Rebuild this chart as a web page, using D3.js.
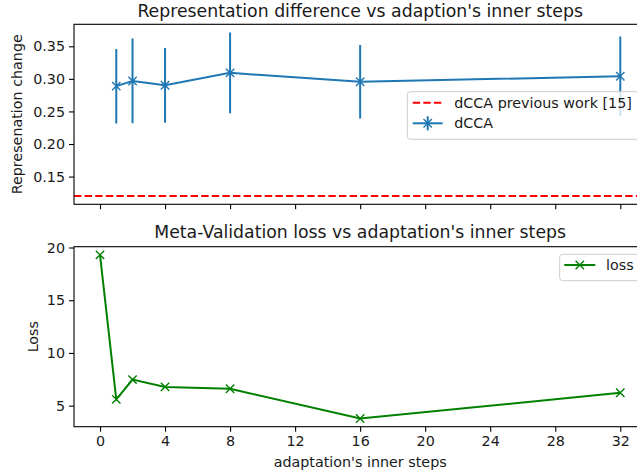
<!DOCTYPE html>
<html>
<head>
<meta charset="utf-8">
<script src="https://cdn.jsdelivr.net/npm/d3@7"></script>
<style>
  html, body { margin: 0; padding: 0; background: #fff; }
  text { font-family: "DejaVu Sans", sans-serif; fill: #1a1a1a; }
</style>
</head>
<body>
<svg id="chart" width="637" height="472"></svg>
<script>
// ---- data ----
const steps = [1, 2, 4, 8, 16, 32];
const dccaMean = [0.2888, 0.2968, 0.2901, 0.3092, 0.2955, 0.3040];
const dccaErr = [0.0572, 0.0650, 0.0574, 0.0620, 0.0565, 0.0610];
const prevWork = 0.12;
const lossSteps = [0, 1, 2, 4, 8, 16, 32];
const lossValues = [19.3, 5.6, 7.47, 6.78, 6.6, 3.78, 6.22];
const xTicks = [0, 4, 8, 12, 16, 20, 24, 28, 32];
const topYTicks = [0.15, 0.20, 0.25, 0.30, 0.35];
const botYTicks = [5, 10, 15, 20];

const svg = d3.select("#chart");
svg.append("rect").attr("width", 637).attr("height", 472).attr("fill", "#fff");

const L = 74, R = 646.3;
const top1 = 24.3, bot1 = 204.3;
const top2 = 246.7, bot2 = 426.7;
const FS = 14.3, TFS = 17.3;

function pad(lo, hi) { const m = (hi - lo) * 0.05; return [lo - m, hi + m]; }

const xAll = steps.concat(lossSteps);
const x = d3.scaleLinear().domain(pad(d3.min(xAll), d3.max(xAll))).range([L, R]);

const tLo = d3.min([prevWork].concat(dccaMean.map((m, i) => m - dccaErr[i])));
const tHi = d3.max(dccaMean.map((m, i) => m + dccaErr[i]));
const y1 = d3.scaleLinear().domain(pad(tLo, tHi)).range([bot1, top1]);
const y2 = d3.scaleLinear().domain(pad(d3.min(lossValues), d3.max(lossValues))).range([bot2, top2]);

function frame(g, top, bot) {
  g.append("rect").attr("x", L).attr("y", top).attr("width", R - L).attr("height", bot - top)
    .attr("fill", "none").attr("stroke", "#000").attr("stroke-width", 1.1);
}

function xMark(g, cx, cy, color, s) {
  g.append("path")
    .attr("d", `M${cx - s},${cy - s}L${cx + s},${cy + s}M${cx - s},${cy + s}L${cx + s},${cy - s}`)
    .attr("stroke", color).attr("stroke-width", 1.4).attr("fill", "none");
}

// ===== Top panel =====
const g1 = svg.append("g");
const clip1 = svg.append("clipPath").attr("id", "c1");
clip1.append("rect").attr("x", L).attr("y", top1).attr("width", R - L).attr("height", bot1 - top1);

const p1 = g1.append("g").attr("clip-path", "url(#c1)");
p1.append("line").attr("x1", L).attr("x2", R).attr("y1", y1(prevWork)).attr("y2", y1(prevWork))
  .attr("stroke", "#ff0000").attr("stroke-width", 2).attr("stroke-dasharray", "7.4,3.2");

steps.forEach((s, i) => {
  p1.append("line").attr("x1", x(s)).attr("x2", x(s))
    .attr("y1", y1(dccaMean[i] - dccaErr[i])).attr("y2", y1(dccaMean[i] + dccaErr[i]))
    .attr("stroke", "#1f77b4").attr("stroke-width", 2);
});
p1.append("path").datum(steps.map((s, i) => [s, dccaMean[i]]))
  .attr("d", d3.line().x(d => x(d[0])).y(d => y1(d[1])))
  .attr("fill", "none").attr("stroke", "#1f77b4").attr("stroke-width", 2);
steps.forEach((s, i) => xMark(p1, x(s), y1(dccaMean[i]), "#1f77b4", 4.2));

frame(g1, top1, bot1);

const ax1 = g1.append("g").attr("transform", `translate(${L},0)`)
  .call(d3.axisLeft(y1).tickValues(topYTicks).tickFormat(d3.format(".2f")).tickSize(5).tickPadding(4));
ax1.select(".domain").remove();
ax1.selectAll("line").attr("stroke", "#000").attr("stroke-width", 1.1);
ax1.selectAll("text").attr("font-size", FS).attr("font-family", "DejaVu Sans").attr("fill", "#1a1a1a");

const bx1 = g1.append("g").attr("transform", `translate(0,${bot1})`)
  .call(d3.axisBottom(x).tickValues(xTicks).tickFormat("").tickSize(5));
bx1.select(".domain").remove();
bx1.selectAll("line").attr("stroke", "#000").attr("stroke-width", 1.1);

svg.append("text").attr("x", (L + R) / 2).attr("y", 17).attr("text-anchor", "middle")
  .attr("font-size", TFS).text("Representation difference vs adaption's inner steps");
svg.append("text").attr("transform", `translate(22,${(top1 + bot1) / 2}) rotate(-90)`)
  .attr("text-anchor", "middle").attr("font-size", FS).text("Represenation change");

// legend top
const lg1 = svg.append("g");
lg1.append("rect").attr("x", 407.3).attr("y", 91.7).attr("width", 232).attr("height", 47.6)
  .attr("rx", 3).attr("fill", "#fff").attr("fill-opacity", 0.8).attr("stroke", "#cccccc").attr("stroke-width", 1);
lg1.append("line").attr("x1", 412.7).attr("x2", 442.7).attr("y1", 102.7).attr("y2", 102.7)
  .attr("stroke", "#ff0000").attr("stroke-width", 2).attr("stroke-dasharray", "7.4,3.2");
lg1.append("text").attr("x", 454.3).attr("y", 102.7).attr("dy", "0.36em").attr("font-size", FS).text("dCCA previous work [15]");
lg1.append("line").attr("x1", 412.7).attr("x2", 442.7).attr("y1", 123.3).attr("y2", 123.3)
  .attr("stroke", "#1f77b4").attr("stroke-width", 2);
lg1.append("line").attr("x1", 427.7).attr("x2", 427.7).attr("y1", 116.3).attr("y2", 130.3)
  .attr("stroke", "#1f77b4").attr("stroke-width", 2);
xMark(lg1, 427.7, 123.3, "#1f77b4", 4.2);
lg1.append("text").attr("x", 454.3).attr("y", 123.3).attr("dy", "0.36em").attr("font-size", FS).text("dCCA");

// ===== Bottom panel =====
const g2 = svg.append("g");
const clip2 = svg.append("clipPath").attr("id", "c2");
clip2.append("rect").attr("x", L).attr("y", top2).attr("width", R - L).attr("height", bot2 - top2);
const p2 = g2.append("g").attr("clip-path", "url(#c2)");
p2.append("path").datum(lossSteps.map((s, i) => [s, lossValues[i]]))
  .attr("d", d3.line().x(d => x(d[0])).y(d => y2(d[1])))
  .attr("fill", "none").attr("stroke", "#008000").attr("stroke-width", 2);
lossSteps.forEach((s, i) => xMark(p2, x(s), y2(lossValues[i]), "#008000", 4.2));

frame(g2, top2, bot2);

const ax2 = g2.append("g").attr("transform", `translate(${L},0)`)
  .call(d3.axisLeft(y2).tickValues(botYTicks).tickSize(5).tickPadding(4));
ax2.select(".domain").remove();
ax2.selectAll("line").attr("stroke", "#000").attr("stroke-width", 1.1);
ax2.selectAll("text").attr("font-size", FS).attr("font-family", "DejaVu Sans").attr("fill", "#1a1a1a");

const bx2 = g2.append("g").attr("transform", `translate(0,${bot2})`)
  .call(d3.axisBottom(x).tickValues(xTicks).tickSize(5).tickPadding(4));
bx2.select(".domain").remove();
bx2.selectAll("line").attr("stroke", "#000").attr("stroke-width", 1.1);
bx2.selectAll("text").attr("font-size", FS).attr("font-family", "DejaVu Sans").attr("fill", "#1a1a1a");

svg.append("text").attr("x", (L + R) / 2).attr("y", 238).attr("text-anchor", "middle")
  .attr("font-size", TFS).text("Meta-Validation loss vs adaptation's inner steps");
svg.append("text").attr("transform", `translate(38,${(top2 + bot2) / 2}) rotate(-90)`)
  .attr("text-anchor", "middle").attr("font-size", FS).text("Loss");
svg.append("text").attr("x", (L + R) / 2).attr("y", 467).attr("text-anchor", "middle")
  .attr("font-size", FS).text("adaptation's inner steps");

// legend bottom
const lg2 = svg.append("g");
lg2.append("rect").attr("x", 559.7).attr("y", 254.3).attr("width", 80).attr("height", 26.4)
  .attr("rx", 3).attr("fill", "#fff").attr("fill-opacity", 0.8).attr("stroke", "#cccccc").attr("stroke-width", 1);
lg2.append("line").attr("x1", 564.3).attr("x2", 595.3).attr("y1", 265).attr("y2", 265)
  .attr("stroke", "#008000").attr("stroke-width", 2);
xMark(lg2, 579.8, 265, "#008000", 4.2);
lg2.append("text").attr("x", 606).attr("y", 265).attr("dy", "0.36em").attr("font-size", FS).text("loss");
</script>
</body>
</html>
